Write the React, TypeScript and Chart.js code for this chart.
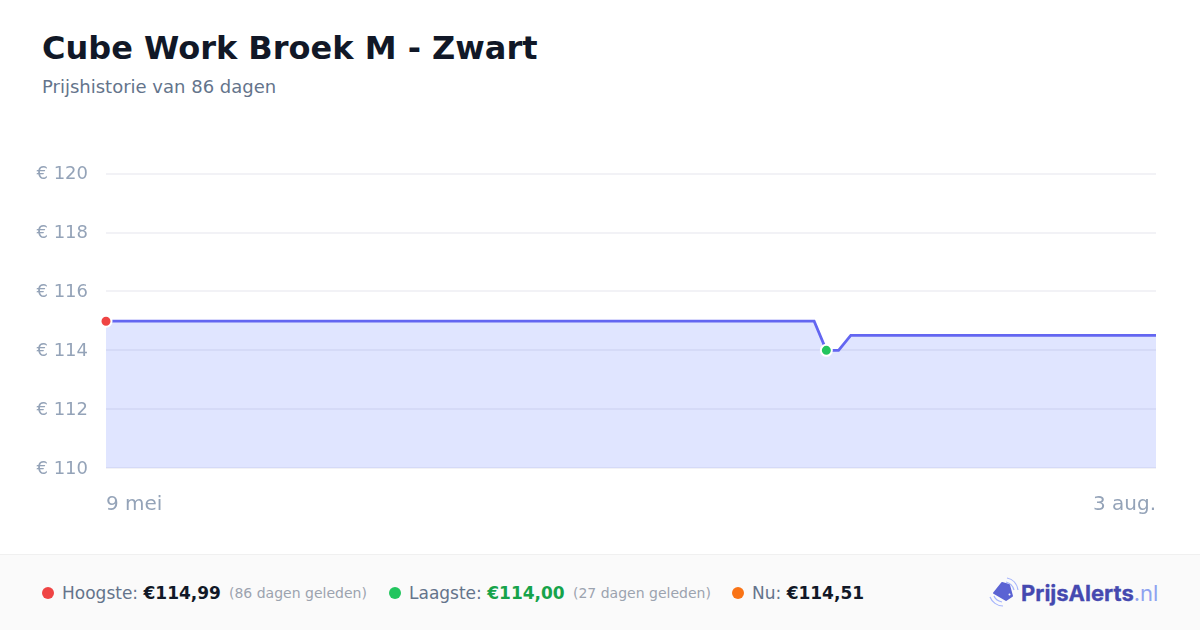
import React, { useEffect, useRef } from "react";
import { Chart, registerables } from "chart.js";

Chart.register(...registerables);

const dates = [
  "9 mei","10 mei","11 mei","12 mei","13 mei","14 mei","15 mei","16 mei","17 mei","18 mei","19 mei","20 mei",
  "21 mei","22 mei","23 mei","24 mei","25 mei","26 mei","27 mei","28 mei","29 mei","30 mei","31 mei",
  "1 jun.","2 jun.","3 jun.","4 jun.","5 jun.","6 jun.","7 jun.","8 jun.","9 jun.","10 jun.","11 jun.","12 jun.",
  "13 jun.","14 jun.","15 jun.","16 jun.","17 jun.","18 jun.","19 jun.","20 jun.","21 jun.","22 jun.","23 jun.",
  "24 jun.","25 jun.","26 jun.","27 jun.","28 jun.","29 jun.","30 jun.",
  "1 jul.","2 jul.","3 jul.","4 jul.","5 jul.","6 jul.","7 jul.","8 jul.","9 jul.","10 jul.","11 jul.","12 jul.",
  "13 jul.","14 jul.","15 jul.","16 jul.","17 jul.","18 jul.","19 jul.","20 jul.","21 jul.","22 jul.","23 jul.",
  "24 jul.","25 jul.","26 jul.","27 jul.","28 jul.","29 jul.","30 jul.","31 jul.",
  "1 aug.","2 aug.","3 aug.",
];

const prices = [
  114.99,114.99,114.99,114.99,114.99,114.99,114.99,114.99,114.99,114.99,114.99,114.99,
  114.99,114.99,114.99,114.99,114.99,114.99,114.99,114.99,114.99,114.99,114.99,
  114.99,114.99,114.99,114.99,114.99,114.99,114.99,114.99,114.99,114.99,114.99,114.99,
  114.99,114.99,114.99,114.99,114.99,114.99,114.99,114.99,114.99,114.99,114.99,
  114.99,114.99,114.99,114.99,114.99,114.99,114.99,
  114.99,114.99,114.99,114.99,114.99,114.99,114.0,114.0,114.51,114.51,114.51,114.51,
  114.51,114.51,114.51,114.51,114.51,114.51,114.51,114.51,114.51,114.51,114.51,
  114.51,114.51,114.51,114.51,114.51,114.51,114.51,114.51,
  114.51,114.51,114.51,
];

const highIndex = 0;
const lowIndex = 59;
const FONT = "'DejaVu Sans', sans-serif";

const abs = (s: React.CSSProperties): React.CSSProperties => ({ position: "absolute", whiteSpace: "nowrap", ...s });

function Dot({ x, color }: { x: number; color: string }) {
  return <div style={abs({ left: x, top: 587, width: 12, height: 12, borderRadius: 6, background: color })} />;
}

export default function App() {
  const ref = useRef<HTMLCanvasElement>(null);
  useEffect(() => {
    const chart = new Chart(ref.current!, {
      type: "line",
      data: {
        labels: dates,
        datasets: [
          {
            data: prices,
            borderColor: "#6366f1",
            borderWidth: 2.75,
            backgroundColor: "rgba(99,125,255,0.2)",
            fill: "origin",
            tension: 0,
            clip: false,
            pointRadius: (c: any) => (c.dataIndex === highIndex || c.dataIndex === lowIndex ? 5.5 : 0),
            pointBackgroundColor: (c: any) => (c.dataIndex === highIndex ? "#ef4444" : "#22c55e"),
            pointBorderColor: "#ffffff",
            pointBorderWidth: 2,
          },
        ],
      },
      options: {
        responsive: false,
        animation: false,
        devicePixelRatio: 1,
        layout: { padding: { left: 0, right: 44, top: 0, bottom: 0 } },
        plugins: { legend: { display: false }, tooltip: { enabled: false } },
        scales: {
          x: {
            type: "category",
            grid: { display: false, drawTicks: false },
            border: { display: false },
            ticks: {
              autoSkip: false,
              maxRotation: 0,
              align: "inner",
              padding: 25,
              color: "#94a3b8",
              font: { family: FONT, size: 20 },
              callback: (_v: any, i: number) => (i === 0 || i === dates.length - 1 ? dates[i] : ""),
            },
          },
          y: {
            min: 110,
            max: 120,
            afterFit: (s: any) => { s.width = 106; },
            grid: { color: "rgba(30,41,99,0.06)", lineWidth: 2, drawTicks: false },
            border: { display: false },
            ticks: {
              stepSize: 2,
              padding: 18,
              labelOffset: 1,
              color: "#94a3b8",
              font: { family: FONT, size: 18 },
              callback: (v: any) => "€ " + v,
            },
          },
        },
      },
      plugins: [],
    } as any);
    return () => chart.destroy();
  }, []);

  return (
    <div style={{ position: "fixed", left: 0, top: 0, width: 1200, height: 630, background: "#fff", overflow: "hidden", fontFamily: FONT }}>
      <div style={abs({ left: 42, top: 28, fontSize: 32, fontWeight: 700, color: "#111827", lineHeight: "40px" })}>Cube Work Broek M - Zwart</div>
      <div style={abs({ left: 42, top: 76, fontSize: 18, color: "#64748b", lineHeight: "22px" })}>Prijshistorie van 86 dagen</div>
      <div style={abs({ left: 0, top: 145, width: 1200, height: 397 })}>
        <canvas ref={ref} width={1200} height={397} style={{ display: "block" }} />
      </div>
      <div style={abs({ left: 0, top: 554, width: 1200, height: 76, background: "#fafafa", borderTop: "1px solid #f0f0f0", boxSizing: "border-box" })} />
      <Dot x={42} color="#ef4444" />
      <div style={abs({ left: 62, top: 582, fontSize: 17, lineHeight: "22px", color: "#64748b" })}>Hoogste: <b style={{ color: "#111827" }}>€114,99</b></div>
      <div style={abs({ left: 229, top: 584, fontSize: 14, lineHeight: "18px", color: "#9ca3af" })}>(86 dagen geleden)</div>
      <Dot x={389} color="#22c55e" />
      <div style={abs({ left: 409, top: 582, fontSize: 17, lineHeight: "22px", color: "#64748b" })}>Laagste: <b style={{ color: "#16a34a" }}>€114,00</b></div>
      <div style={abs({ left: 573, top: 584, fontSize: 14, lineHeight: "18px", color: "#9ca3af" })}>(27 dagen geleden)</div>
      <Dot x={732} color="#f97316" />
      <div style={abs({ left: 752, top: 582, fontSize: 17, lineHeight: "22px", color: "#64748b" })}>Nu: <b style={{ color: "#111827" }}>€114,51</b></div>
      <svg style={abs({ left: 988, top: 576 })} width={34} height={34} viewBox="0 0 34 34">
        <path d="M6 17 L14 7 L21 9 L24 20 L18 24 Z" fill="#5b63d3" strokeLinejoin="round" stroke="#5b63d3" strokeWidth={2} />
        <circle cx="21.5" cy="18.5" r="1" fill="#fff" />
        <path d="M18 6 C22 7 25 10 26 14 M19 2 C25 3 29 8 30 14" fill="none" stroke="#a5b4fc" strokeWidth={1.2} />
        <path d="M6 20 C7 23 10 25 14 26 M2 21 C4 26 9 30 15 30" fill="none" stroke="#a5b4fc" strokeWidth={1.2} />
      </svg>
      <div style={abs({ left: 1021, top: 579, fontFamily: "Inter, sans-serif", fontSize: 22, lineHeight: "28px", fontWeight: 700, color: "#4549b0", WebkitTextStroke: "0.3px #4549b0" })}>
        PrijsAlerts<span style={{ fontWeight: 400, color: "#8ea2f0", WebkitTextStroke: "0" }}>.nl</span>
      </div>
    </div>
  );
}
